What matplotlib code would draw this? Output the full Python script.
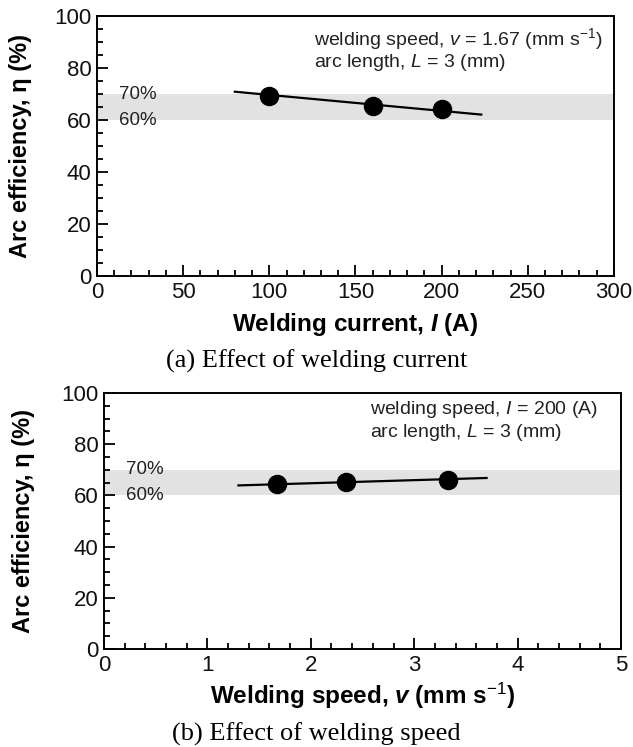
import numpy as np
import matplotlib
matplotlib.use('Agg')
import matplotlib.pyplot as plt
from matplotlib.ticker import MultipleLocator

plt.rcParams['font.family'] = ['Liberation Sans', 'DejaVu Sans']
plt.rcParams['mathtext.fontset'] = 'custom'
plt.rcParams['mathtext.rm'] = 'Liberation Sans'
plt.rcParams['mathtext.it'] = 'Liberation Sans:italic'
plt.rcParams['mathtext.bf'] = 'Liberation Sans:bold:italic'

# (a) effect of welding current
cur_I = [100, 160, 200]
cur_eff = [69.2, 65.3, 64.1]
cur_fit_x = [80, 223]
cur_fit_y = [70.9, 62.1]

# (b) effect of welding speed
spd_v = [1.67, 2.34, 3.33]
spd_eff = [64.5, 65.1, 66.1]
spd_fit_x = [1.3, 3.7]
spd_fit_y = [63.9, 66.8]

band = [60, 70]
band_labels = ['60%', '70%']


def style(ax, xmax, xmaj, xmin):
    ax.set_xlim(0, xmax)
    ax.set_ylim(0, 100)
    ax.xaxis.set_major_locator(MultipleLocator(xmaj))
    ax.xaxis.set_minor_locator(MultipleLocator(xmin))
    ax.yaxis.set_major_locator(MultipleLocator(20))
    ax.yaxis.set_minor_locator(MultipleLocator(5))
    ax.tick_params(which='both', direction='in', top=False, right=False,
                   labelsize=16, width=1.4, colors='#111111')
    ax.tick_params(which='major', length=8, pad=4)
    ax.tick_params(which='minor', length=4.5)
    for s in ax.spines.values():
        s.set_linewidth(1.4)
    ax.axhspan(band[0], band[1], color='#e2e2e2', lw=0, zorder=0)


fig = plt.figure(figsize=(6.33, 7.47), dpi=100)

ax1 = fig.add_axes([0.1532, 0.6305, 0.8167, 0.348])
style(ax1, 300, 50, 10)
ax1.plot(cur_fit_x, cur_fit_y, color='black', lw=1.6)
ax1.plot(cur_I, cur_eff, 'o', color='black', ms=13)
for y, t in zip(band, band_labels):
    ax1.text(13, y, t, fontsize=13.5, va='center', ha='left', color='#222222')
ax1.text(126, 91.0, r'welding speed, $\mathit{v}$ = 1.67 (mm s$^{-1}$)',
         fontsize=14, va='center', ha='left', color='#222222')
ax1.text(126, 82.3, r'arc length, $\mathit{L}$ = 3 (mm)',
         fontsize=14, va='center', ha='left', color='#222222')
ax1.set_xlabel(r'Welding current, $\mathbf{I}$ (A)', fontsize=17.5, fontweight='bold')
ax1.set_ylabel('Arc efficiency, η (%)', fontsize=17, fontweight='bold')
ax1.yaxis.set_label_coords(-0.126, 0.5)
ax1.xaxis.labelpad = 6

ax2 = fig.add_axes([0.1643, 0.1312, 0.8167, 0.3427])
style(ax2, 5, 1, 0.2)
ax2.plot(spd_fit_x, spd_fit_y, color='black', lw=1.6)
ax2.plot(spd_v, spd_eff, 'o', color='black', ms=13)
for y, t in zip(band, band_labels):
    ax2.text(0.21, y, t, fontsize=13.5, va='center', ha='left', color='#222222')
ax2.text(2.57, 93.4, r'welding speed, $\mathit{I}$ = 200 (A)',
         fontsize=14, va='center', ha='left', color='#222222')
ax2.text(2.57, 84.6, r'arc length, $\mathit{L}$ = 3 (mm)',
         fontsize=14, va='center', ha='left', color='#222222')
ax2.set_xlabel(r'Welding speed, $\mathbf{v}$ (mm s$^{-1}$)', fontsize=17.5, fontweight='bold')
ax2.set_ylabel('Arc efficiency, η (%)', fontsize=17, fontweight='bold')
ax2.yaxis.set_label_coords(-0.133, 0.5)
ax2.xaxis.labelpad = 4

fig.text(0.5, 0.516, '(a) Effect of welding current', family='Liberation Serif',
         fontsize=19, ha='center', va='center')
fig.text(0.5, 0.017, '(b) Effect of welding speed', family='Liberation Serif',
         fontsize=19, ha='center', va='center')

fig.savefig('out.png', dpi=100)
